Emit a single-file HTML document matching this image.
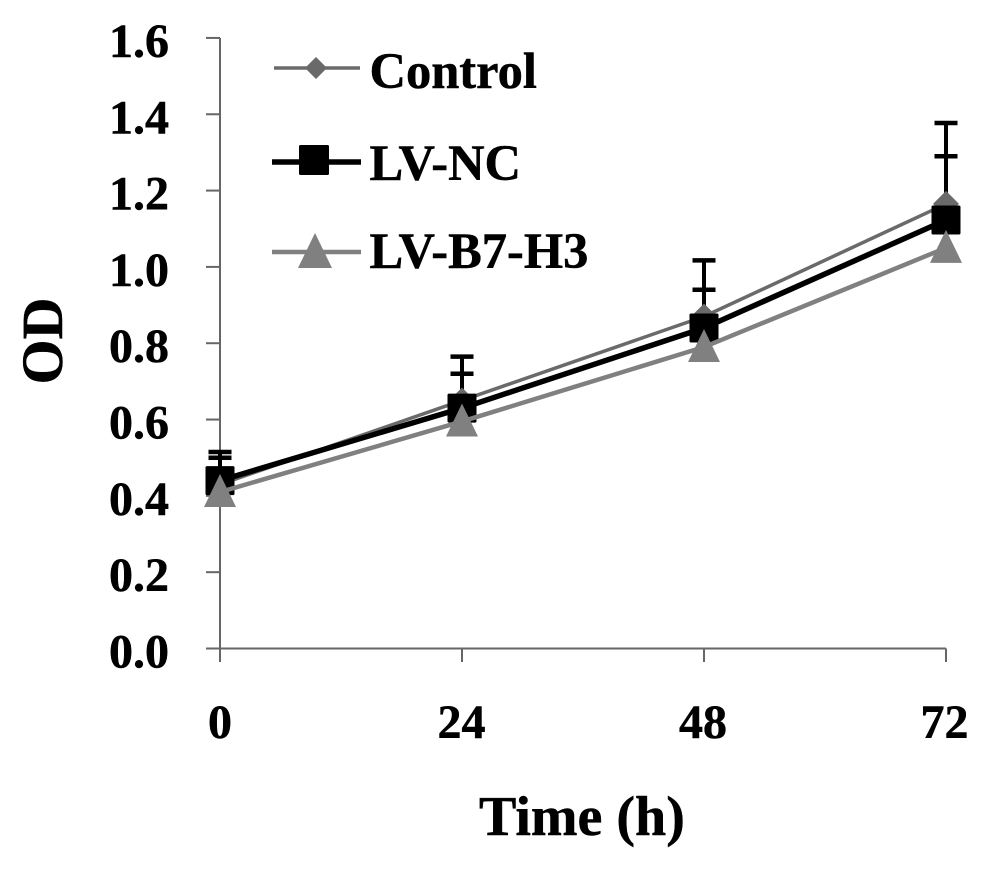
<!DOCTYPE html>
<html>
<head>
<meta charset="utf-8">
<title>OD over time</title>
<style>
html,body{margin:0;padding:0;background:#fff;}
svg{display:block;}
text{font-family:"Liberation Serif",serif;font-weight:bold;fill:#000;stroke:#000;stroke-width:0.5px;}
</style>
</head>
<body>
<svg id="chart" xmlns="http://www.w3.org/2000/svg" width="992" height="872" viewBox="0 0 992 872"></svg>
<script>
const categories = ['0', '24', '48', '72'];
const yTickLabels = ['0.0', '0.2', '0.4', '0.6', '0.8', '1.0', '1.2', '1.4', '1.6'];
const controlValues = [0.43, 0.65, 0.87, 1.165];
const lvNcValues = [0.44, 0.63, 0.84, 1.123];
const lvB7H3Values = [0.41, 0.595, 0.79, 1.05];
const controlErrors = [0.085, 0.115, 0.147, 0.212];
const lvNcErrors = [0.06, 0.09, 0.10, 0.167];
const legendLabels = ['Control', 'LV-NC', 'LV-B7-H3'];

const svg = document.getElementById('chart');
const NS = 'http://www.w3.org/2000/svg';
function xPos(i) { return 220 + i * 242; }
function xLabelPos(i) { return 220 + i * 241.5; }
function yPos(v) { return 648.5 - v * 381.6; }
function make(tag, attrs, parent) {
  const el = document.createElementNS(NS, tag);
  for (const k in attrs) el.setAttribute(k, attrs[k]);
  (parent || svg).appendChild(el);
  return el;
}
function group(name) {
  const g = make('g', {});
  
  
  return g;
}
function diamond(cx, cy, r, fill, parent) {
  return make('polygon', {points: [cx, cy - r, cx + r, cy, cx, cy + r, cx - r, cy].join(','), fill: fill}, parent);
}
function square(cx, cy, r, fill, parent) {
  return make('rect', {x: cx - r, y: cy - r, width: 2 * r, height: 2 * r, rx: 1.5, fill: fill}, parent);
}
function triangle(cx, cy, r, fill, parent) {
  return make('polygon', {points: [cx, cy - r - 3, cx + r + 1, cy + r, cx - r - 1, cy + r].join(','), fill: fill}, parent);
}

const axisColor = '#666';
const yAxis = group('y-axis');
make('line', {x1: 220, x2: 220, y1: yPos(1.6), y2: 662, stroke: axisColor, 'stroke-width': 2}, yAxis);
yTickLabels.forEach(function (label) {
  const v = parseFloat(label);
  const tick = make('line', {x1: 206, x2: 220, y1: yPos(v), y2: yPos(v), stroke: axisColor, 'stroke-width': 2}, yAxis);
  
  
  const t = make('text', {x: 169, y: yPos(v) + 19, 'text-anchor': 'end', 'font-size': 48}, yAxis);
  t.textContent = label;
  
  
});

const xAxis = group('x-axis');
make('line', {x1: 206, x2: xPos(categories.length - 1), y1: yPos(0), y2: yPos(0), stroke: axisColor, 'stroke-width': 2}, xAxis);
categories.forEach(function (label, i) {
  const tick = make('line', {x1: xPos(i), x2: xPos(i), y1: yPos(0), y2: 662, stroke: axisColor, 'stroke-width': 2}, xAxis);
  
  
  const t = make('text', {x: xLabelPos(i), y: 738, 'text-anchor': 'middle', 'font-size': 48}, xAxis);
  t.textContent = label;
  
  
});

function drawErrors(values, errors, name) {
  const g = group(name);
  values.forEach(function (v, i) {
    const top = yPos(v + errors[i]);
    make('line', {x1: xPos(i), x2: xPos(i), y1: yPos(v), y2: top, stroke: '#000', 'stroke-width': 4}, g);
    make('line', {x1: xPos(i) - 11.5, x2: xPos(i) + 11.5, y1: top, y2: top, stroke: '#000', 'stroke-width': 4.5}, g);
  });
}
function drawLine(values, color, width, name) {
  const g = group(name);
  const pts = values.map(function (v, i) { return xPos(i) + ',' + yPos(v); }).join(' ');
  make('polyline', {points: pts, fill: 'none', stroke: color, 'stroke-width': width}, g);
  return g;
}
drawErrors(controlValues, controlErrors, 'control-error-bars');
drawErrors(lvNcValues, lvNcErrors, 'lv-nc-error-bars');
const controlG = drawLine(controlValues, '#6a6a6a', 3.5, 'control-series');
controlValues.forEach(function (v, i) { diamond(xPos(i), yPos(v), 13, '#6a6a6a', controlG); });
const ncG = drawLine(lvNcValues, '#000', 5.5, 'lv-nc-series');
lvNcValues.forEach(function (v, i) { square(xPos(i), yPos(v), 14.5, '#000', ncG); });
const b7G = drawLine(lvB7H3Values, '#808080', 4.5, 'lv-b7-h3-series');
lvB7H3Values.forEach(function (v, i) { triangle(xPos(i), yPos(v), 15, '#808080', b7G); });

const legendRows = [
  {y: 68, base: 88, color: '#6a6a6a', w: 3.5, x1: 274, x2: 360, draw: function (g) { diamond(316, 68, 11, '#6a6a6a', g); }},
  {y: 162, base: 180, color: '#000', w: 5.5, x1: 272, x2: 361, draw: function (g) { square(314, 160, 15, '#000', g); }},
  {y: 252, base: 268, color: '#808080', w: 4.5, x1: 272, x2: 361, draw: function (g) { triangle(315, 252, 16, '#808080', g); }}
];
const legend = group('legend');
legendRows.forEach(function (row, i) {
  const g = make('g', {}, legend);
  
  
  make('line', {x1: row.x1, x2: row.x2, y1: row.y, y2: row.y, stroke: row.color, 'stroke-width': row.w}, g);
  row.draw(g);
  const t = make('text', {x: 369.5, y: row.base, 'font-size': 50.5}, g);
  t.textContent = legendLabels[i];
});

const xTitle = make('text', {x: 479, y: 835, 'font-size': 56});
xTitle.textContent = 'Time (h)';


const yTitle = make('text', {transform: 'translate(62,341) rotate(-90)', 'text-anchor': 'middle', 'font-size': 58});
yTitle.textContent = 'OD';


</script>
</body>
</html>
